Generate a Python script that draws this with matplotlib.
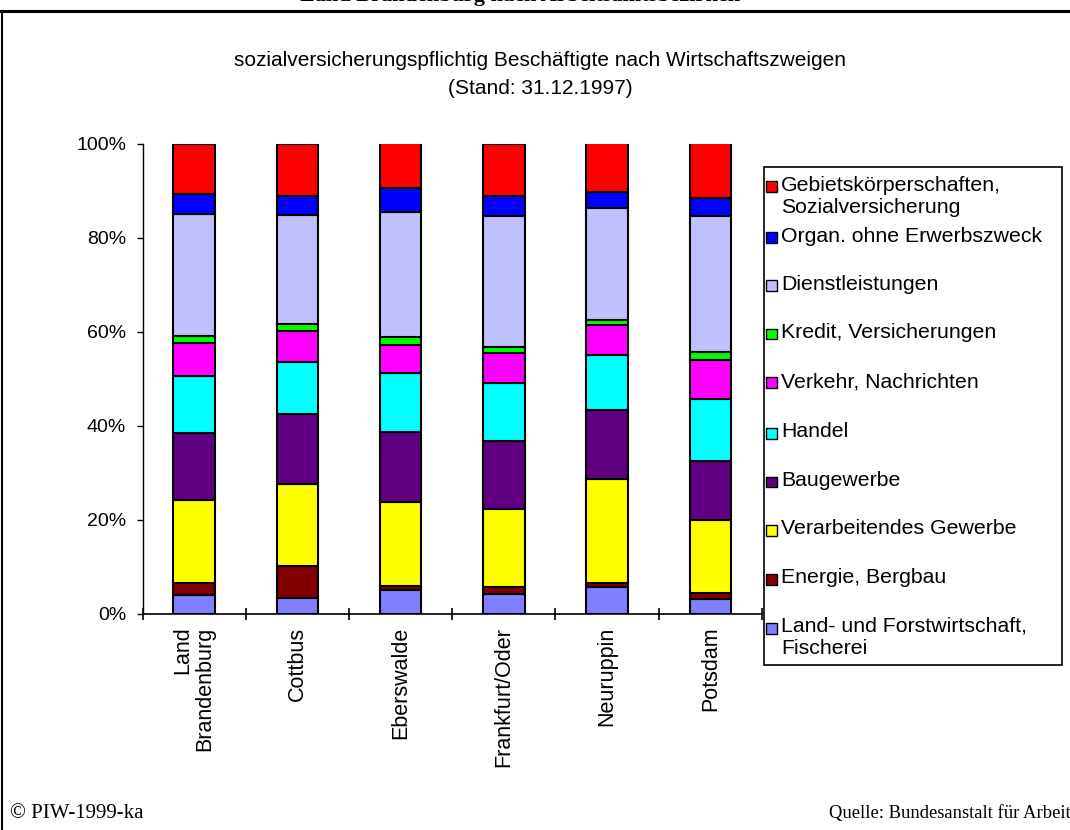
import matplotlib.pyplot as plt
import numpy as np
from matplotlib.lines import Line2D
from matplotlib.patches import Rectangle

plt.rcParams['font.family'] = ['Liberation Sans', 'DejaVu Sans']

# Data (shares in %)
regions = ["Land\nBrandenburg", "Cottbus", "Eberswalde", "Frankfurt/Oder", "Neuruppin", "Potsdam"]
sectors = ["Land- und Forstwirtschaft,\nFischerei", "Energie, Bergbau", "Verarbeitendes Gewerbe",
           "Baugewerbe", "Handel", "Verkehr, Nachrichten", "Kredit, Versicherungen",
           "Dienstleistungen", "Organ. ohne Erwerbszweck", "Gebietskörperschaften,\nSozialversicherung"]
land_forst = [3.9, 3.2, 5.0, 4.1, 5.7, 3.0]
energie = [2.5, 6.9, 0.9, 1.5, 0.7, 1.3]
verarbeitend = [17.7, 17.4, 17.8, 16.6, 22.2, 15.6]
baugewerbe = [14.4, 14.9, 14.9, 14.6, 14.8, 12.6]
handel = [12.1, 11.2, 12.6, 12.2, 11.6, 13.1]
verkehr = [6.9, 6.6, 5.9, 6.4, 6.4, 8.3]
kredit = [1.5, 1.5, 1.7, 1.2, 1.1, 1.7]
dienst = [26.0, 23.1, 26.6, 28.0, 23.7, 29.0]
organ = [4.2, 4.1, 5.2, 4.3, 3.5, 3.9]
gebiet = [10.8, 11.1, 9.4, 11.1, 10.3, 11.5]
series = [land_forst, energie, verarbeitend, baugewerbe, handel, verkehr, kredit, dienst, organ, gebiet]
colors = ["#8080FF", "#800000", "#FFFF00", "#600080", "#00FFFF", "#FF00FF", "#00FF00",
          "#C0C0FF", "#0000FF", "#FF0000"]

W, H = 1070, 830
fig = plt.figure(figsize=(W / 100, H / 100), dpi=100)

def fx(px):
    return px / W

def fy(py):
    return 1 - py / H

ax = fig.add_axes([fx(142.5), fy(613.5), fx(762) - fx(142.5), fy(143.5) - fy(613.5)])

x = np.arange(len(regions))
bottom = np.zeros(len(regions))
for vals, col in zip(series, colors):
    ax.bar(x, vals, width=0.4, bottom=bottom, color=col, edgecolor="black", linewidth=1.5, zorder=3)
    bottom += np.array(vals)

ax.set_xlim(-0.5, len(regions) - 0.5)
ax.set_ylim(0, 100)
ax.set_yticks([0, 20, 40, 60, 80, 100])
ax.set_yticklabels(["0%", "20%", "40%", "60%", "80%", "100%"], fontsize=14)
ax.tick_params(axis="y", direction="out", length=4.3, width=1, pad=7.5)
ax.set_xticks(x)
ax.set_xticklabels(regions, rotation=90, fontsize=15.5, multialignment="right", linespacing=1.05)
ax.tick_params(axis="x", which="major", length=0, pad=9.5)
ax.set_xticks(np.arange(-0.5, len(regions) + 0.5, 1), minor=True)
ax.tick_params(axis="x", which="minor", direction="inout", length=8, width=1.2)
for s in ["top", "right"]:
    ax.spines[s].set_visible(False)
ax.spines["left"].set_linewidth(1)
ax.spines["bottom"].set_linewidth(1.2)

# titles
fig.text(fx(540), fy(61), "sozialversicherungspflichtig Beschäftigte nach Wirtschaftszweigen",
         ha="center", va="center", fontsize=15)
fig.text(fx(540), fy(88), "(Stand: 31.12.1997)", ha="center", va="center", fontsize=15)
fig.text(fx(520), fy(6), "Land Brandenburg nach Arbeitsamtsbezirken", ha="center", va="bottom",
         fontsize=16, fontweight="bold", family="Liberation Serif")

# legend (drawn by hand, top entry first)
fig.patches.append(Rectangle((fx(764), fy(665)), fx(1062) - fx(764), fy(167) - fy(665),
                             transform=fig.transFigure, facecolor="white", edgecolor="black",
                             linewidth=1.2))
entry_y = [628, 579, 530, 482, 433, 383, 334, 286, 238, 187]
for lab, col, py in zip(sectors, colors, entry_y):
    fig.patches.append(Rectangle((fx(766), fy(py + 5.5)), fx(11), fy(0) - fy(11),
                                 transform=fig.transFigure, facecolor=col, edgecolor="black",
                                 linewidth=1))
    fig.text(fx(781), fy(py - 11), lab, ha="left", va="top", fontsize=15.3,
             transform=fig.transFigure, linespacing=1.2)

# frame lines
fig.add_artist(Line2D([0, 1], [fy(11), fy(11)], color="black", linewidth=2.2, transform=fig.transFigure))
fig.add_artist(Line2D([fx(2), fx(2)], [0, fy(11)], color="black", linewidth=1.5, transform=fig.transFigure))

# footer
fig.text(fx(10), fy(813), "© PIW-1999-ka", ha="left", va="center", fontsize=15, family="Liberation Serif")
fig.text(fx(829), fy(813), "Quelle: Bundesanstalt für Arbeit", ha="left", va="center", fontsize=13.4,
         family="Liberation Serif")

fig.savefig("out.png", dpi=100)
